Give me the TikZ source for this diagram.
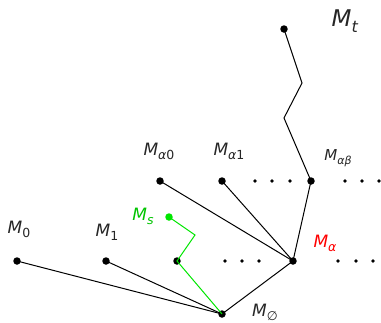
\documentclass[tikz,border=0pt]{standalone}
\usepackage{fontspec}
\setmainfont{DejaVu Sans}
\definecolor{lgreen}{RGB}{0,230,0}
\newcommand{\mlab}[1]{\textit{M}\raisebox{-0.45ex}{\fontsize{12.5}{12.5}\selectfont#1}}
\begin{document}
\begin{tikzpicture}[x=1pt,y=-1pt,
  dot/.style={circle,fill=black,inner sep=0pt,minimum size=7.5pt},
  sdot/.style={circle,fill=black,inner sep=0pt,minimum size=3.8pt},
  lab/.style={inner sep=0pt,font=\fontsize{17}{17}\selectfont,text=black!85},
  edge/.style={line width=1pt}]
\useasboundingbox (0,0) rectangle (381,322);
% main nodes
\node[dot] (e) at (222,314) {};
\node[dot] (m0) at (17,261) {};
\node[dot] (m1) at (106,261) {};
\node[dot] (m2) at (177,261) {};
\node[dot] (ma) at (293,261) {};
\node[dot] (ma0) at (160,181) {};
\node[dot] (ma1) at (222,181) {};
\node[dot] (mab) at (311,181) {};
\node[dot] (mt) at (284,29) {};
\coordinate (z1) at (284,118);
\coordinate (z2) at (302,83);
\node[circle,fill=lgreen,inner sep=0pt,minimum size=7.5pt] (ms) at (169,217) {};
\coordinate (g1) at (195,235);
% small dots
\foreach \x [count=\i] in {225,242,259} \node[sdot] (d1\i) at (\x,261) {};
\foreach \x [count=\i] in {338,356,373} \node[sdot] (d2\i) at (\x,261) {};
\foreach \x [count=\i] in {255,272,290} \node[sdot] (d3\i) at (\x,181) {};
\foreach \x [count=\i] in {345,362,379} \node[sdot] (d4\i) at (\x,181) {};
% edges
\draw[edge] (m0.center) -- (e.center);
\draw[edge] (m1.center) -- (e.center);
\draw[edge] (ma.center) -- (e.center);
\draw[edge] (ma0.center) -- (ma.center);
\draw[edge] (ma1.center) -- (ma.center);
\draw[edge] (mab.center) -- (ma.center);
\draw[edge] (mab.center) -- (z1) -- (z2) -- (mt.center);
\draw[edge,lgreen] (ms.center) -- (g1) -- (m2.center) -- (e.center);
% labels
\node[lab] (l0) at (19,229) {\mlab{0}};
\node[lab] (l1) at (107,232) {\mlab{1}};
\node[lab] (la0) at (159,151) {\mlab{\textit{α}0}};
\node[lab] (la1) at (229,151) {\mlab{\textit{α}1}};
\node[lab,font=\fontsize{15}{15}\selectfont] (lab) at (338,158) {\textit{M}\raisebox{-0.45ex}{\fontsize{11}{11}\selectfont\textit{αβ}}};
\node[lab,text=red] (la) at (325,243) {\mlab{\textit{α}}};
\node[lab,text=lgreen!85!black] (ls) at (143,216) {\mlab{\textit{s}}};
\node[lab,font=\fontsize{23}{23}\selectfont] (lt) at (345,21) {\textit{M}\raisebox{-0.45ex}{\fontsize{16}{16}\selectfont\textit{t}}};
\node[lab] (le) at (265,312) {\mlab{∅}};
\end{tikzpicture}
\end{document}
